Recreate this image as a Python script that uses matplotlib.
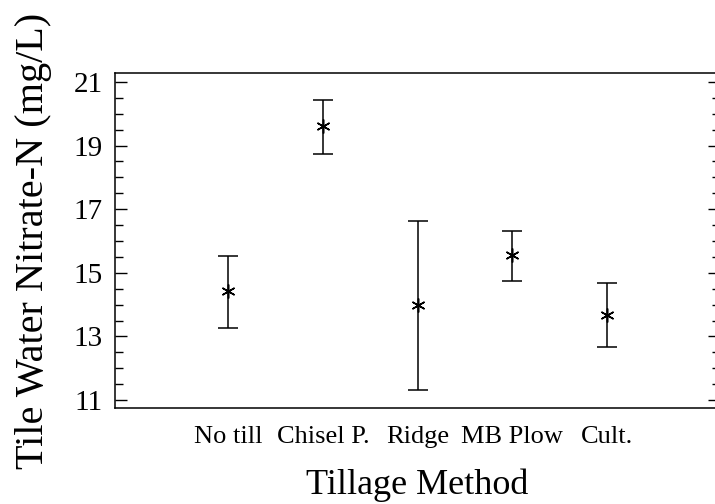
import matplotlib.pyplot as plt
import numpy as np

plt.rcParams["font.family"] = ["Liberation Serif", "DejaVu Serif"]

methods = ["No till", "Chisel P.", "Ridge", "MB Plow", "Cult."]
means = [14.43, 19.62, 13.99, 15.56, 13.67]
upper = [15.53, 20.43, 16.63, 16.31, 14.68]
lower = [13.26, 18.74, 11.31, 14.74, 12.67]

means = np.array(means)
err = [means - np.array(lower), np.array(upper) - means]
xpos = np.arange(1, len(methods) + 1)

fig = plt.figure(figsize=(7.15, 5.04), dpi=100)
# right edge of the axes falls just outside the picture, as in the original
ax = fig.add_axes([115 / 715, (504 - 408) / 504, (720 - 115) / 715, (408 - 73) / 504])

ax.errorbar(xpos, means, yerr=err, fmt="none", ecolor="black", elinewidth=1.1,
            capsize=7, capthick=1.1)
ax.plot(xpos, means, linestyle="none", marker=(6, 2, 0), markersize=10,
        color="black", markeredgewidth=1.1)

ax.set_xlim(-0.2, 6.2)
ax.set_ylim(10.75, 21.28)
ax.set_yticks([11, 13, 15, 17, 19, 21])
ax.set_yticks(np.arange(11, 21.01, 0.5), minor=True)
ax.set_xticks(xpos)
ax.set_xticklabels(methods, fontsize=19)

ax.tick_params(axis="y", which="major", direction="in", length=8.6, width=1.0,
               labelsize=21, right=True, pad=9)
ax.tick_params(axis="y", which="minor", direction="in", length=5.8, width=1.0,
               right=True)
ax.tick_params(axis="x", which="both", length=0, pad=13)

for s in ax.spines.values():
    s.set_linewidth(1.1)

ax.set_xlabel("Tillage Method", fontsize=26, labelpad=15)
ax.set_ylabel("Tile Water Nitrate-N (mg/L)", fontsize=29, labelpad=15)

plt.savefig("out.png", dpi=100)
